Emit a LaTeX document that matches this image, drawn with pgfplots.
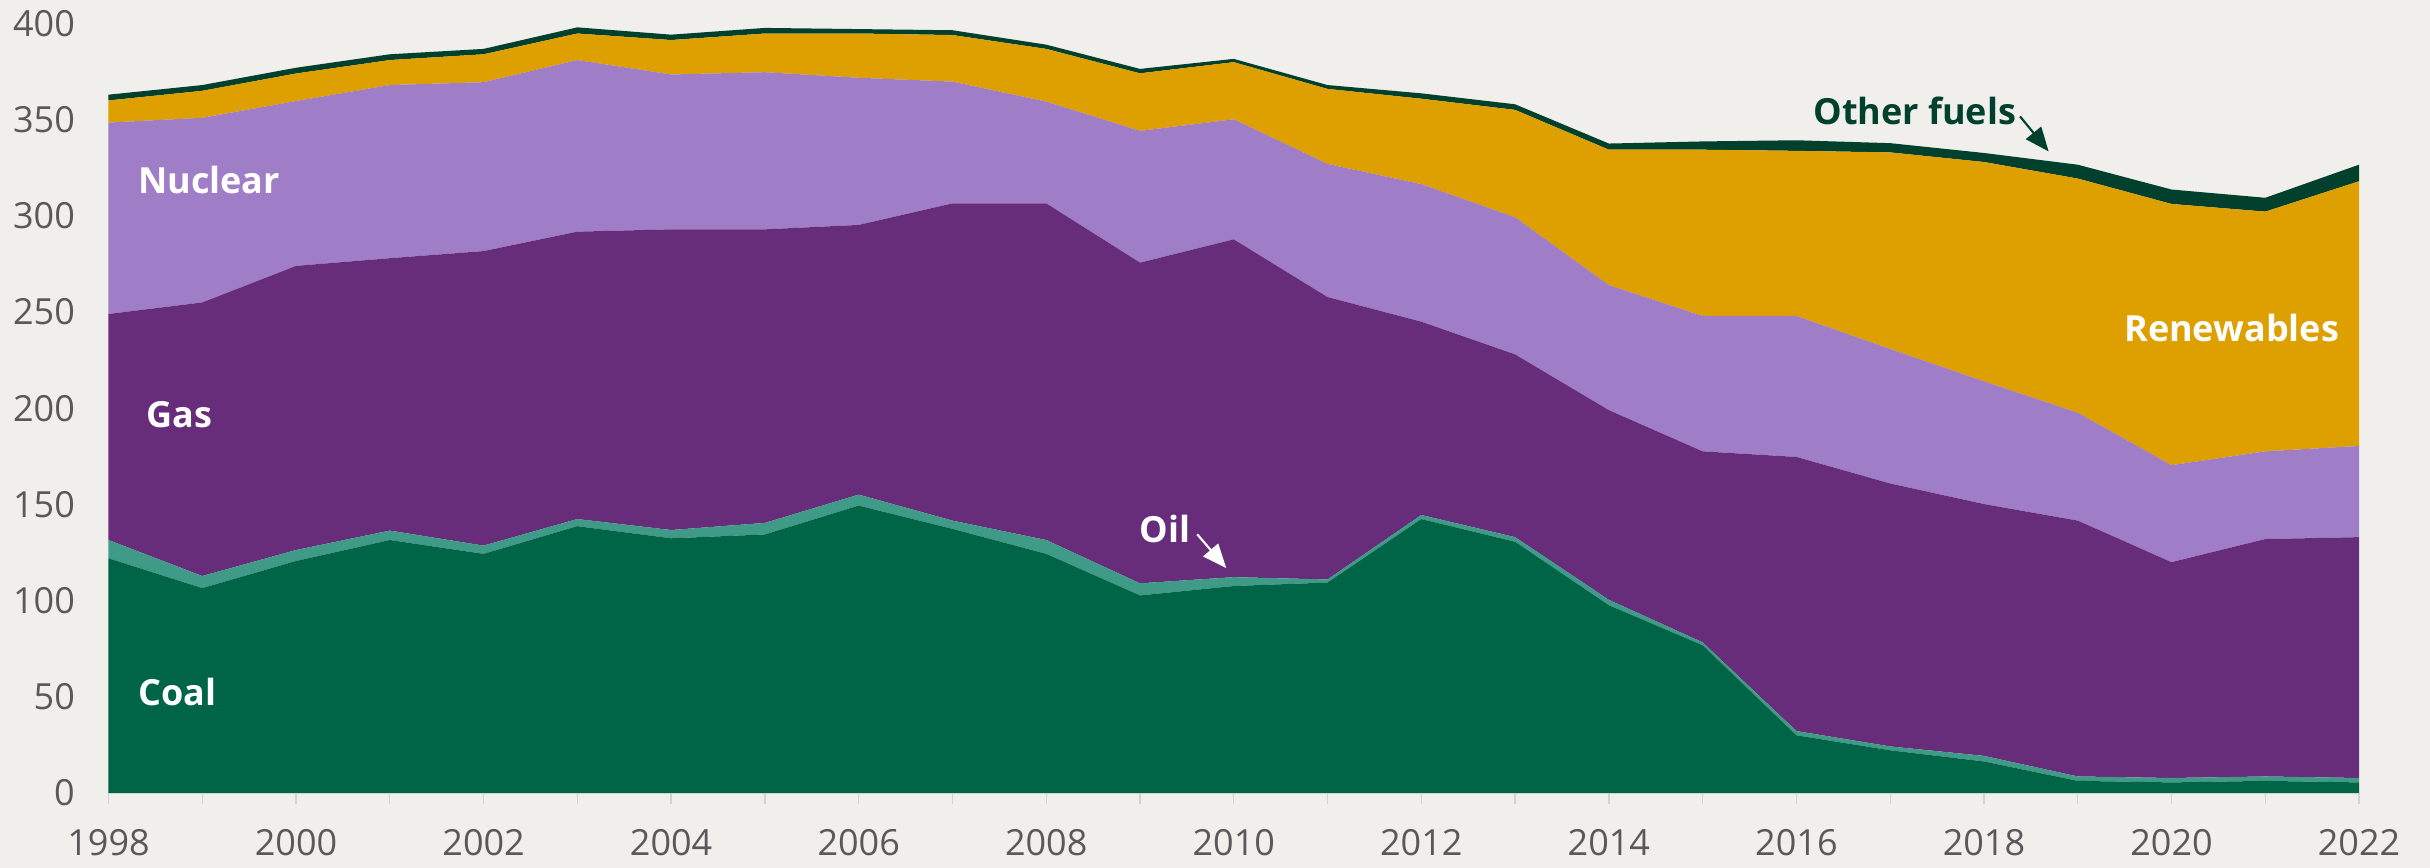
\documentclass[border=0pt]{standalone}
\usepackage{fontspec}
\setmainfont{Open Sans}
\usepackage{pgfplots}
\usepackage{pgfplotstable}
\pgfplotsset{compat=1.18}
\usetikzlibrary{arrows.meta}
\definecolor{bg}{HTML}{F0EFEC}
\definecolor{coal}{HTML}{006446}
\definecolor{oil}{HTML}{3F9B87}
\definecolor{gas}{HTML}{672D7B}
\definecolor{nuclear}{HTML}{A07EC7}
\definecolor{renew}{HTML}{DE9F00}
\definecolor{other}{HTML}{00402C}
\definecolor{ticklab}{HTML}{595959}
\definecolor{tickgray}{HTML}{D2D2D0}
\pgfplotstableread{
year coal oil gas nuclear renew other
1998 122.0 9.5 117.5 99.5 11.5 3.0
1999 106.5 6.3 142.2 96.0 14.0 3.0
2000 120.6 5.7 147.7 85.7 14.3 3.0
2001 131.5 4.9 141.6 90.0 13.0 3.0
2002 124.3 4.3 153.1 87.8 14.5 2.8
2003 138.7 3.7 149.4 89.2 13.8 3.2
2004 132.4 4.3 156.3 80.5 17.9 2.8
2005 134.4 6.0 152.6 81.7 20.1 2.9
2006 149.4 5.7 140.2 76.5 23.0 2.3
2007 137.3 4.3 164.9 63.3 24.2 2.5
2008 124.3 7.2 175.0 52.9 27.4 2.2
2009 102.7 6.3 166.7 68.5 29.9 2.3
2010 107.6 4.6 175.6 62.4 29.7 1.7
2011 109.4 1.6 146.8 69.2 39.0 2.0
2012 142.4 2.1 100.5 71.5 44.4 2.8
2013 130.6 2.4 95.0 71.3 55.8 2.9
2014 97.6 2.8 98.6 65.0 70.4 3.2
2015 76.8 1.5 99.3 70.4 86.4 4.3
2016 30.0 2.2 142.5 73.3 85.8 5.5
2017 22.2 2.0 136.7 69.9 102.2 4.8
2018 16.4 2.9 130.9 63.8 114.0 4.7
2019 6.3 2.3 133.0 56.1 121.7 7.2
2020 5.5 2.3 112.2 50.4 135.8 7.5
2021 6.3 2.3 123.4 45.6 124.6 7.2
2022 5.5 2.3 125.2 47.4 137.6 8.6
}\datatable
\begin{document}
\begin{tikzpicture}
\fill[bg] (-36.167pt,-25pt) rectangle (773.833pt,264.333pt);
\tikzset{lab/.style={font=\fontsize{12}{14}\selectfont\bfseries, inner sep=0pt}}
\begin{axis}[
  at={(0,0)}, anchor=south west,
  scale only axis, width=750.17pt, height=256.5pt,
  xmin=1998, xmax=2022, ymin=0, ymax=400,
  stack plots=y,
  axis x line*=bottom, axis y line*=left,
  x axis line style={draw=tickgray, line width=0.5pt},
  y axis line style={draw=none},
  xtick={1998,2000,...,2022},
  minor xtick={1999,2001,...,2021},
  ytick={0,50,...,400},
  ytick style={draw=none},
  xtick style={draw=tickgray, line width=0.45pt},
  minor tick style={draw=tickgray, line width=0.45pt},
  tick align=outside,
  major tick length=3.7pt, minor tick length=3.7pt,
  /pgf/number format/assume math mode=true,
  /pgf/number format/1000 sep={},
  ticklabel style={font=\fontsize{12}{14}\selectfont, text=ticklab},
  xticklabel style={yshift=-5pt},
  yticklabel style={xshift=-4pt},
  clip=false,
  after end axis/.append code={
    \node[lab, text=white, anchor=west] at (axis cs:1998.31,318.5) {Nuclear};
    \node[lab, text=white, anchor=west] at (axis cs:1998.40,196.9) {Gas};
    \node[lab, text=white, anchor=west] at (axis cs:1998.31,52.5) {Coal};
    \node[lab, text=white, anchor=west] at (axis cs:2019.49,241.6) {Renewables};
    \node[lab, text=white, anchor=east] at (axis cs:2009.545,137.1) {Oil};
    \node[lab, text=other, anchor=east] at (axis cs:2018.35,354.8) {Other fuels};
    \draw[white, line width=0.7pt, -{Triangle[length=8pt,width=6.5pt]}] (axis cs:2009.61,134.5) -- (axis cs:2009.92,116.9);
    \draw[other, line width=0.7pt, -{Triangle[length=8pt,width=6.5pt]}] (axis cs:2018.385,351.7) -- (axis cs:2018.69,333.5);
  },
]
\addplot[fill=coal, draw=none] table[x=year,y=coal]{\datatable} \closedcycle;
\addplot[fill=oil, draw=none] table[x=year,y=oil]{\datatable} \closedcycle;
\addplot[fill=gas, draw=none] table[x=year,y=gas]{\datatable} \closedcycle;
\addplot[fill=nuclear, draw=none] table[x=year,y=nuclear]{\datatable} \closedcycle;
\addplot[fill=renew, draw=none] table[x=year,y=renew]{\datatable} \closedcycle;
\addplot[fill=other, draw=none] table[x=year,y=other]{\datatable} \closedcycle;
\end{axis}
\pgfresetboundingbox
\path[use as bounding box] (-36.167pt,-25pt) rectangle (773.833pt,264.333pt);
\end{tikzpicture}
\end{document}
